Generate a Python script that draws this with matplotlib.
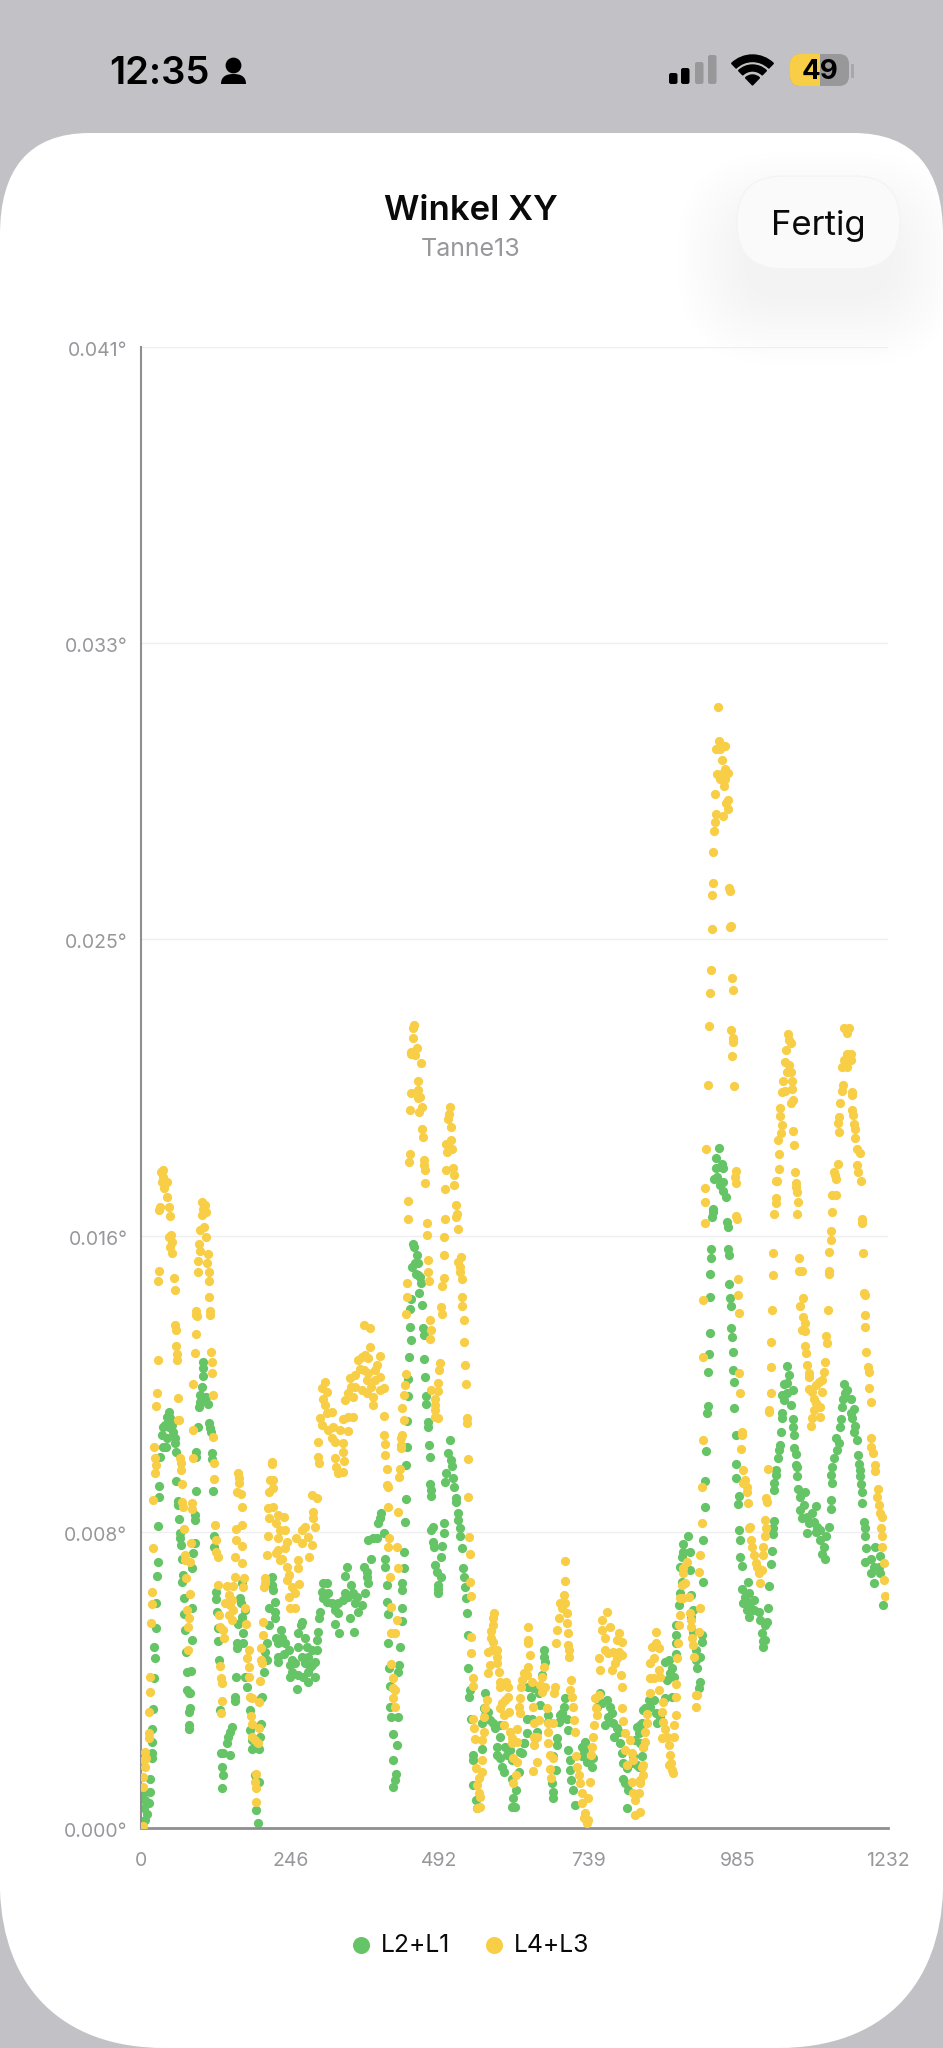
import matplotlib
matplotlib.use("Agg")
import matplotlib.pyplot as plt
import numpy as np
from matplotlib.patches import Circle, FancyBboxPatch, PathPatch, Rectangle, Wedge
from matplotlib.path import Path
from matplotlib.transforms import ScaledTranslation

plt.rcParams['font.family'] = ['Inter', 'DejaVu Sans']

GREEN = "#65C466"
YELLOW = "#F7CE46"
BACKDROP = "#C2C1C6"
TICK_GREY = "#98989C"

# (sample, angle in millidegrees) for each channel, grouped by hump
green_start = [
    (6, 0.22), (9, 0.40), (5, 0.54), (12, 0.68), (6, 0.77), (3, 0.96), (14, 1.00), (14, 1.35), (17, 1.93),
    (17, 2.07), (17, 2.39), (18, 2.73), (20, 3.29), (21, 4.14), (22, 4.72), (21, 5.00), (24, 5.53), (25, 6.22),
    (26, 6.98), (27, 7.37), (28, 8.36), (29, 9.17), (30, 9.47), (45, 11.52), (42, 11.39), (47, 11.34),
    (39, 11.16), (36, 11.11), (45, 11.11), (50, 11.16), (34, 10.88), (42, 10.79), (53, 10.97), (56, 10.79),
    (56, 10.65), (36, 10.54), (40, 10.54), (31, 10.28), (57, 10.42), (58, 9.62), (60, 9.06), (61, 8.94),
    (62, 8.55), (64, 8.18), (64, 8.02), (66, 7.83), (67, 7.46), (69, 7.00), (68, 6.82), (71, 6.38), (71, 5.92),
    (72, 5.48), (73, 4.88), (75, 4.33), (82, 4.35), (75, 3.82), (78, 3.73), (80, 3.73), (80, 3.31), (78, 3.22),
    (79, 2.85), (78, 2.73), (83, 5.20), (84, 6.08), (84, 7.19), (86, 7.60), (88, 7.88), (89, 8.53), (89, 8.66),
    (90, 9.33), (91, 10.40), (91, 10.26), (94, 11.11), (95, 11.65), (97, 11.80), (97, 11.99), (100, 12.20),
    (110, 11.74), (106, 11.92), (102, 12.51), (102, 12.73), (102, 12.91), (111, 11.20), (114, 11.06),
    (115, 10.97), (116, 10.39), (117, 10.21), (119, 9.33), (120, 8.08), (120, 7.79), (123, 6.54), (123, 6.33),
    (125, 5.99), (126, 5.53), (127, 5.18), (128, 4.65), (130, 3.27), (134, 1.70), (135, 1.47), (134, 1.10),
    (132, 2.08), (135, 2.07), (146, 2.02), (141, 2.34), (143, 2.53), (146, 2.67), (150, 2.80), (155, 3.63),
    (154, 3.52), (156, 4.19), (158, 5.11), (158, 4.97), (168, 5.11), (168, 5.39), (160, 5.66), (166, 5.76),
    (167, 5.85), (171, 6.03), (165, 6.22), (163, 6.36), (166, 6.77), (172, 4.19), (174, 3.91), (180, 3.27),
    (180, 2.71), (182, 2.44), (182, 2.18), (194, 2.18), (196, 2.53), (197, 2.87), (198, 3.59), (200, 3.63),
    (203, 4.33), (207, 4.65), (205, 4.88), (208, 5.11), (210, 5.62), (210, 6.08), (221, 5.99), (220, 5.80),
    (220, 6.26), (218, 6.59), (215, 6.96), (216, 6.73), (192, 0.15), (190, 0.50), (187, 1.47), (194, 1.28),
    (190, 1.33),
]
green_plateau = [
    (230, 5.48), (223, 5.25), (226, 5.11), (232, 5.25), (237, 5.11), (243, 4.93), (235, 4.83), (226, 4.74),
    (225, 4.60), (245, 4.51), (248, 4.65), (245, 4.19), (248, 4.33), (257, 3.86), (259, 4.23), (267, 4.19),
    (276, 4.05), (287, 4.19), (276, 4.33), (278, 4.47), (270, 4.56), (259, 5.02), (270, 5.25), (259, 5.39),
    (265, 5.71), (264, 5.62), (273, 5.02), (281, 4.93), (290, 4.93), (291, 5.43), (290, 5.20), (287, 4.60),
    (281, 4.51), (265, 4.74), (254, 4.56), (276, 4.74), (295, 5.99), (293, 5.80), (300, 6.77), (306, 6.77),
    (298, 6.54), (300, 6.36), (306, 6.26), (314, 6.22), (320, 6.03), (325, 5.94), (320, 5.66), (326, 5.39),
    (333, 6.31), (336, 6.50), (347, 6.73), (350, 6.50), (353, 6.22), (344, 5.80), (351, 5.42), (358, 5.99),
    (364, 6.17), (369, 6.50), (375, 6.77), (372, 6.96), (367, 7.23), (372, 7.10), (339, 7.23), (336, 6.98),
    (379, 7.46), (375, 7.97), (383, 8.02), (389, 8.02), (400, 8.16), (391, 8.43), (394, 8.57), (396, 8.71),
    (309, 6.50), (325, 6.22), (342, 6.40), (356, 6.40),
]
green_first_peak = [
    (402, 7.46), (402, 7.23), (405, 6.73), (405, 6.27), (408, 5.92), (408, 5.11), (409, 4.42), (411, 3.93),
    (411, 3.36), (413, 3.08), (423, 3.08), (415, 2.60), (422, 2.30), (416, 1.88), (420, 1.50), (418, 1.33),
    (416, 1.13), (424, 4.33), (426, 4.51), (427, 5.00), (430, 5.73), (430, 6.10), (431, 6.59), (431, 6.77),
    (434, 7.19), (434, 7.63), (435, 8.47), (437, 9.10), (437, 10.05), (439, 10.54), (439, 11.27), (440, 11.96),
    (441, 12.43), (442, 13.03), (445, 13.51), (443, 13.88), (448, 16.18), (451, 16.09), (455, 15.86),
    (456, 15.63), (447, 15.54), (453, 15.33), (460, 15.26), (462, 15.09), (459, 14.82), (463, 14.48),
    (446, 14.64), (444, 14.36), (452, 15.63), (457, 15.31), (465, 13.83), (466, 13.65), (467, 12.98),
    (468, 12.49), (470, 11.96), (470, 11.73), (473, 11.25), (473, 11.11), (475, 10.61), (476, 10.27),
    (477, 9.52), (478, 9.36), (479, 9.19), (481, 8.34), (479, 8.25), (482, 7.93), (484, 7.77), (485, 7.28),
    (488, 7.10), (490, 6.73), (490, 6.63), (490, 6.50), (495, 6.96), (495, 7.51), (497, 7.81), (499, 8.16),
    (500, 8.45), (503, 9.82), (501, 9.59), (515, 9.68), (517, 9.45), (519, 9.13), (519, 9.03), (522, 8.71),
    (523, 8.53), (526, 8.30), (526, 8.07), (529, 7.74), (531, 7.19), (532, 6.96), (534, 6.68), (536, 6.36),
    (538, 5.94), (540, 5.34), (540, 4.42), (541, 3.64), (542, 3.82), (544, 3.03), (547, 2.02), (548, 1.88),
    (548, 1.19), (552, 0.78), (554, 0.54), (510, 10.74), (507, 10.37), (511, 10.19), (513, 10.02),
]
green_valley = [
    (567, 3.73), (565, 3.31), (567, 3.13), (573, 3.22), (576, 2.99), (581, 2.90), (584, 2.76), (592, 2.85),
    (562, 2.20), (562, 2.90), (592, 2.53), (588, 2.25), (587, 2.02), (592, 1.93), (595, 1.70), (598, 1.56),
    (601, 2.25), (603, 2.02), (609, 2.16), (612, 1.88), (612, 0.59), (617, 0.59), (613, 0.82), (618, 1.05),
    (612, 1.37), (624, 1.56), (625, 2.11), (628, 2.07), (632, 2.34), (636, 2.62), (631, 2.34), (636, 3.03),
    (645, 3.03), (643, 3.64), (647, 3.87), (639, 3.91), (653, 2.67), (650, 2.48), (664, 4.93), (665, 4.74),
    (666, 4.60), (661, 4.23), (656, 3.73), (658, 3.40), (672, 3.13), (672, 2.94), (686, 2.48), (686, 2.30),
    (680, 1.98), (684, 1.61), (678, 1.24), (679, 1.01), (680, 0.82), (691, 3.13), (689, 2.94), (694, 3.17),
    (697, 3.36), (700, 3.59), (702, 3.03), (705, 2.71), (705, 2.16), (708, 1.88), (708, 1.61), (710, 1.33),
    (713, 1.05), (716, 0.64), (727, 2.25), (733, 2.39), (730, 2.16), (727, 1.98), (735, 1.83), (746, 1.93),
    (744, 1.70), (757, 3.75), (752, 3.36), (760, 3.45), (768, 3.54), (774, 3.36), (777, 3.17), (771, 3.08),
    (779, 2.90), (766, 2.85), (785, 2.76), (788, 2.67), (781, 2.53), (790, 2.34), (793, 2.07), (796, 1.79),
    (801, 1.65), (796, 1.37), (799, 1.24), (804, 1.05), (801, 0.54), (818, 2.80), (826, 2.90), (821, 2.62),
    (815, 2.44), (823, 2.34), (829, 2.25), (812, 1.98), (810, 1.79), (821, 1.70), (832, 3.31), (824, 2.85),
    (827, 1.98), (818, 1.74),
]
green_rise = [
    (829, 3.27), (838, 3.54), (840, 3.36), (846, 3.54), (849, 3.17), (851, 2.90), (857, 3.08), (865, 3.59),
    (876, 3.64), (868, 4.10), (873, 4.28), (876, 4.42), (865, 4.60), (871, 4.65), (879, 4.19), (882, 4.83),
    (883, 5.11), (882, 5.34), (883, 5.62), (887, 6.17), (890, 6.50), (893, 6.82), (890, 7.23), (893, 7.51),
    (895, 7.65), (894, 7.85), (903, 8.09), (906, 7.65), (905, 7.14), (908, 6.45), (911, 6.03), (908, 5.85),
    (911, 5.43), (915, 4.93), (915, 4.65), (917, 4.42), (923, 4.74), (926, 5.16), (926, 5.34), (923, 4.05),
    (920, 3.87),
]
green_main_peak = [
    (927, 6.82), (928, 7.97), (930, 8.90), (931, 9.61), (932, 10.45), (934, 11.48), (935, 11.68), (935, 12.63),
    (937, 13.12), (938, 13.69), (938, 14.71), (939, 15.35), (941, 15.77), (941, 16.02), (942, 16.92),
    (944, 17.06), (944, 17.15), (945, 17.98), (948, 18.26), (950, 18.03), (949, 18.54), (953, 18.83),
    (959, 18.38), (961, 18.26), (961, 17.89), (956, 17.80), (961, 17.64), (965, 17.47), (967, 16.78),
    (968, 16.64), (969, 16.02), (970, 15.86), (971, 15.07), (972, 14.66), (974, 14.45), (974, 13.85),
    (975, 13.60), (976, 13.17), (977, 12.68), (979, 12.36), (979, 11.62), (981, 10.88), (982, 10.07),
    (982, 9.68), (986, 9.19), (985, 8.97), (987, 8.25), (988, 7.97), (989, 7.51), (992, 7.25), (992, 6.63),
    (1002, 6.82), (994, 6.22), (1003, 6.50), (997, 6.40), (1005, 6.22), (1011, 6.31), (1000, 6.03), (1003, 5.83),
    (1011, 6.03), (1019, 5.99), (1021, 5.76), (1033, 5.71), (1030, 5.62), (1024, 5.41), (1029, 5.20),
    (1026, 5.18), (1027, 5.02),
]
green_end = [
    (1035, 6.10), (1037, 6.70), (1040, 7.30), (1041, 7.68), (1043, 8.14), (1043, 8.31), (1044, 8.51), (1045, 9.36),
    (1045, 9.56), (1048, 9.77), (1047, 9.91), (1051, 10.23), (1052, 10.46), (1054, 10.60), (1056, 10.95),
    (1058, 11.34), (1058, 11.48), (1072, 11.71), (1061, 11.85), (1058, 11.99), (1066, 12.03), (1066, 12.31),
    (1061, 12.29), (1076, 12.13), (1069, 12.54), (1066, 12.79), (1076, 11.31), (1076, 11.09), (1078, 10.88),
    (1078, 10.51), (1081, 10.34), (1081, 10.05), (1083, 10.00), (1083, 9.75), (1084, 9.38), (1095, 9.29),
    (1088, 9.17), (1094, 8.94), (1088, 8.80), (1091, 8.57), (1113, 8.91), (1099, 8.62), (1107, 8.71),
    (1102, 8.43), (1110, 8.48), (1116, 8.34), (1099, 8.16), (1113, 8.20), (1121, 8.25), (1135, 8.34),
    (1121, 7.97), (1131, 8.07), (1127, 7.79), (1123, 7.58), (1129, 7.46), (1138, 8.82), (1139, 9.08),
    (1140, 9.54), (1139, 9.77), (1140, 10.00), (1143, 10.23), (1149, 10.46), (1151, 10.65), (1147, 10.79),
    (1153, 11.11), (1155, 11.31), (1157, 11.66), (1158, 11.89), (1160, 12.29), (1162, 12.03), (1165, 12.13),
    (1171, 11.89), (1176, 11.59), (1171, 11.48), (1173, 11.34), (1178, 11.13), (1176, 10.97), (1181, 10.74),
    (1183, 10.33), (1184, 10.08), (1187, 9.91), (1186, 9.75), (1188, 9.52), (1189, 9.31), (1190, 9.01),
    (1193, 8.48), (1194, 8.30), (1195, 8.07), (1197, 7.74), (1212, 7.77), (1195, 7.37), (1204, 7.46),
    (1220, 7.53), (1209, 7.23), (1204, 7.05), (1220, 7.05), (1209, 6.77), (1217, 7.23), (1225, 6.17),
]

yellow_start = [
    (2, 0.05), (3, 1.14), (3, 1.42), (6, 1.70), (7, 1.93), (6, 2.11), (5, 1.88), (12, 2.48), (12, 2.62), (13, 3.20),
    (14, 3.76), (15, 4.17), (16, 5.68), (18, 6.20), (17, 6.52), (19, 7.76), (20, 9.08), (23, 9.82), (24, 10.05),
    (23, 10.25), (21, 10.54), (25, 11.68), (26, 12.05), (27, 12.96), (28, 15.14), (29, 15.42), (54, 15.23),
    (56, 14.89), (45, 16.35), (49, 16.41), (51, 16.23), (47, 16.09), (51, 15.92), (42, 17.47), (31, 17.20),
    (29, 17.11), (45, 17.20), (48, 16.95), (36, 18.21), (32, 18.17), (35, 18.03), (34, 17.89), (43, 17.89),
    (38, 17.71), (56, 13.92), (57, 13.79), (58, 13.35), (59, 13.12), (59, 12.96), (61, 11.91), (63, 11.29),
    (61, 11.29), (64, 10.23), (65, 10.10), (66, 9.91), (68, 9.52), (68, 9.03), (69, 8.90), (70, 8.28), (72, 7.56),
    (72, 7.42), (73, 6.91), (80, 7.37), (80, 6.48), (75, 6.03), (78, 5.80), (77, 5.57), (77, 4.94), (86, 12.29),
    (86, 11.02), (86, 10.23), (89, 13.14), (90, 13.68), (91, 14.20), (83, 8.99), (83, 8.83), (82, 7.88),
    (94, 15.40), (94, 15.69), (95, 16.18), (97, 15.98), (91, 14.32), (92, 14.17), (97, 16.55), (104, 16.64),
    (107, 16.35), (100, 16.97), (106, 17.06), (102, 17.15), (101, 17.32), (105, 17.24), (110, 15.89),
    (108, 15.65), (112, 15.40), (111, 15.14), (112, 14.69), (113, 14.32), (114, 14.20), (115, 13.19),
    (116, 12.89), (117, 12.61), (119, 11.99), (119, 10.83), (120, 10.10), (120, 9.66), (122, 8.39), (123, 7.97),
    (124, 7.65), (126, 7.51), (127, 6.73), (128, 5.90), (130, 5.57), (135, 5.48), (137, 5.25), (130, 4.49),
    (131, 4.14), (134, 4.02), (134, 3.52), (132, 3.19),
]
yellow_shoulder = [
    (141, 6.70), (152, 6.70), (144, 6.45), (138, 6.22), (149, 6.31), (146, 6.17), (152, 6.03), (145, 5.90),
    (149, 5.76), (154, 6.96), (170, 6.91), (168, 6.68), (171, 6.08), (173, 5.66), (156, 8.29), (166, 8.39),
    (156, 7.97), (167, 7.82), (155, 7.49), (167, 7.33), (166, 8.90), (158, 9.31), (165, 9.26), (160, 9.82),
    (161, 9.68), (161, 9.54), (177, 4.93), (174, 4.70), (177, 4.47), (178, 4.19), (180, 3.64), (182, 3.59),
    (181, 3.10), (182, 2.87), (183, 2.53), (188, 2.44), (193, 2.34), (195, 2.78), (194, 3.50), (196, 4.08),
    (198, 4.65), (198, 4.97), (199, 4.56), (201, 5.34), (201, 5.71), (203, 6.68), (204, 6.91), (205, 6.77),
    (189, 1.49), (188, 1.28), (189, 1.10), (190, 0.73), (207, 7.56), (209, 8.09), (210, 8.57), (209, 8.87),
    (218, 8.90), (211, 9.29), (212, 9.63), (218, 9.63), (218, 9.40), (215, 10.08), (215, 10.14), (226, 8.66),
    (235, 8.62), (223, 8.43), (229, 8.25), (237, 8.25), (226, 8.02), (240, 7.93), (237, 7.74), (226, 7.70),
    (223, 7.60), (232, 7.46), (229, 7.42), (240, 7.23), (258, 7.19), (244, 7.00), (240, 6.87), (248, 6.68),
    (260, 6.75), (245, 6.08), (253, 6.08), (243, 6.40), (253, 6.50), (255, 8.02), (265, 7.88), (259, 7.42),
    (270, 8.34), (265, 8.25), (276, 8.06), (281, 7.83), (277, 7.51), (287, 8.34), (284, 8.57), (284, 8.76),
    (290, 9.13), (282, 9.22),
]
yellow_plateau = [
    (292, 10.68), (291, 10.28), (293, 10.10), (295, 11.34), (298, 11.16), (298, 12.17), (306, 12.08),
    (303, 12.36), (300, 11.89), (304, 11.71), (314, 11.52), (306, 11.48), (309, 11.02), (317, 11.11),
    (314, 10.79), (320, 10.69), (333, 10.65), (333, 10.42), (320, 10.23), (335, 10.17), (322, 10.00),
    (333, 9.85), (325, 9.82), (328, 11.02), (342, 11.00), (333, 11.32), (350, 11.39), (342, 11.39),
    (336, 11.85), (342, 12.03), (347, 12.22), (350, 11.94), (344, 12.45), (353, 12.54), (358, 12.96),
    (364, 13.05), (369, 13.09), (375, 13.00), (367, 12.68), (372, 12.40), (364, 12.13), (377, 13.32),
    (377, 13.83), (367, 13.92), (394, 13.08), (389, 12.82), (386, 12.68), (394, 12.49), (400, 12.17),
    (394, 12.13), (380, 12.22), (372, 12.03), (383, 11.94), (382, 11.71), (400, 11.41), (401, 10.88),
    (403, 10.62), (402, 10.33), (405, 9.94), (405, 9.50), (407, 9.45), (375, 12.59), (386, 12.40),
    (353, 12.22), (361, 12.72), (407, 8.88), (409, 8.02), (408, 7.77), (411, 6.96), (412, 6.13), (412, 4.54),
    (415, 4.14), (416, 3.87), (419, 3.82), (416, 3.59), (418, 3.34),
]
yellow_first_peak = [
    (424, 8.76), (422, 7.77), (423, 7.19), (419, 5.39), (413, 5.39), (422, 5.76), (426, 9.73), (427, 9.94),
    (429, 10.60), (428, 10.79), (431, 10.88), (433, 11.29), (431, 11.62), (434, 11.99), (435, 12.26),
    (437, 12.56), (428, 10.51), (437, 14.22), (438, 14.71), (439, 15.10), (440, 16.86), (441, 17.35),
    (442, 18.43), (443, 18.67), (444, 19.87), (445, 20.34), (446, 21.44), (445, 21.49), (449, 21.86),
    (449, 22.14), (451, 22.23), (455, 21.58), (452, 21.40), (461, 21.19), (457, 20.68), (456, 20.43),
    (460, 20.24), (456, 20.20), (463, 19.97), (458, 19.83), (464, 19.34), (465, 19.14), (466, 18.49),
    (467, 18.35), (468, 18.21), (469, 17.87), (471, 16.76), (472, 16.41), (474, 15.72), (473, 15.38),
    (475, 15.15), (477, 14.06), (496, 14.22), (495, 14.43), (497, 15.01), (499, 15.23), (499, 15.86),
    (500, 16.37), (501, 16.85), (501, 17.69), (503, 18.21), (504, 18.72), (503, 18.93), (512, 19.04),
    (513, 18.81), (511, 19.41), (506, 19.64), (508, 19.78), (510, 19.97), (515, 18.28), (517, 18.09),
    (517, 17.80), (519, 17.24), (521, 17.01), (520, 16.92), (522, 16.57), (527, 15.80), (523, 15.68),
    (526, 15.54), (526, 15.40), (529, 15.19), (530, 14.69), (530, 14.46), (532, 14.06), (478, 13.79),
    (477, 13.53), (493, 12.86), (492, 12.68), (489, 12.31), (479, 12.13), (490, 12.10), (485, 11.87),
    (485, 11.71), (485, 11.57), (485, 11.39), (490, 11.36), (533, 13.45), (534, 12.82), (536, 12.28),
    (537, 11.34), (538, 11.20), (539, 10.22), (540, 9.15), (541, 8.05), (542, 7.58), (543, 6.80), (544, 6.43),
    (544, 5.30), (545, 4.84), (548, 4.14), (547, 3.93),
]
yellow_valley = [
    (583, 5.96), (581, 5.80), (580, 5.62), (577, 5.44), (577, 5.25), (581, 5.16), (579, 4.93), (573, 4.88),
    (587, 4.93), (587, 4.74), (588, 4.56), (576, 4.51), (572, 4.28), (590, 4.33), (592, 4.05), (592, 3.91),
    (602, 4.05), (606, 3.91), (605, 3.64), (601, 3.54), (595, 3.45), (592, 3.31), (607, 3.22), (598, 3.13),
    (599, 2.85), (570, 3.54), (567, 3.31), (566, 3.08), (565, 2.67), (562, 2.44), (562, 1.88), (552, 1.65),
    (562, 1.56), (557, 1.38), (555, 1.19), (558, 0.96), (559, 0.87), (559, 0.59), (555, 0.54), (548, 3.03),
    (550, 2.76), (551, 2.46), (609, 2.67), (621, 2.73), (612, 2.48), (620, 2.39), (612, 2.34), (613, 1.93),
    (620, 1.84), (618, 1.47), (614, 1.24), (625, 3.59), (624, 3.36), (625, 3.17), (627, 3.91), (628, 4.10),
    (632, 4.28), (639, 4.47), (636, 4.23), (642, 4.79), (639, 5.11), (638, 5.20), (638, 5.57), (645, 4.05),
    (646, 3.36), (648, 2.90), (656, 2.99), (648, 2.53), (653, 2.53), (648, 2.30), (653, 1.84), (647, 1.59),
    (664, 4.45), (661, 4.19), (658, 3.96), (661, 3.77), (667, 3.91), (669, 3.31), (671, 2.90), (672, 2.67),
    (672, 2.34), (680, 2.90), (683, 3.91), (682, 3.75), (675, 2.02), (680, 1.93), (675, 1.62), (676, 1.38),
    (684, 5.13), (686, 5.48), (689, 5.80), (694, 6.08), (691, 6.22), (697, 6.45), (700, 6.22), (702, 5.94),
    (702, 5.67), (704, 5.41), (704, 5.07), (706, 4.93), (706, 4.74), (700, 6.84), (700, 7.40), (709, 4.10),
    (708, 3.82), (711, 3.64), (713, 3.36), (715, 2.99), (716, 2.67), (718, 2.00), (719, 1.70), (722, 1.47),
    (724, 1.24), (741, 1.26), (727, 0.96), (738, 0.82), (727, 0.68), (733, 0.41), (735, 0.13), (738, 0.22),
    (730, 0.27), (746, 2.53), (744, 2.25), (743, 2.02), (748, 2.85), (752, 3.13), (750, 3.31), (749, 3.59),
    (755, 3.68), (757, 4.37), (756, 4.70), (766, 4.93), (771, 4.84), (779, 4.88), (788, 4.88), (793, 4.79),
    (785, 4.70), (782, 4.56), (777, 4.37), (766, 5.25), (760, 5.48), (768, 5.99), (760, 5.76), (774, 5.57),
    (788, 5.39), (785, 5.20), (793, 5.16), (792, 4.23), (794, 3.89), (794, 3.31), (795, 2.96), (799, 2.62),
    (807, 2.44), (799, 2.16), (810, 2.07), (801, 1.75), (812, 1.88), (810, 1.28), (826, 1.70), (823, 1.33),
    (812, 0.96), (815, 0.78), (823, 0.45), (815, 0.36),
]
yellow_rise = [
    (829, 1.74), (828, 1.47), (824, 1.24), (821, 0.96), (829, 2.25), (832, 2.39), (832, 2.67), (835, 2.90),
    (834, 3.16), (839, 3.73), (840, 4.14), (847, 4.16), (854, 4.37), (857, 4.19), (854, 3.82), (840, 4.56),
    (846, 4.72), (843, 5.02), (854, 4.97), (850, 5.11), (849, 5.43), (861, 3.50), (860, 3.22), (862, 2.94),
    (864, 2.73), (860, 2.48), (868, 2.53), (879, 2.53), (880, 2.85), (882, 3.13), (871, 2.30), (873, 2.02),
    (875, 1.79), (871, 1.74), (876, 1.60), (878, 1.51), (883, 3.64), (883, 4.00), (884, 4.72), (886, 5.11),
    (887, 5.62), (890, 5.90), (890, 6.36), (904, 6.40), (895, 6.36), (893, 6.73), (898, 6.77), (895, 7.05),
    (901, 7.37), (895, 7.19), (905, 5.94), (908, 5.76), (908, 5.57), (909, 5.25), (911, 5.07), (912, 4.74),
    (920, 5.43), (923, 6.08), (921, 7.10), (923, 7.56), (925, 8.43), (926, 9.45), (927, 10.74), (927, 13.05),
    (915, 3.68), (915, 3.36), (917, 3.68),
]
yellow_main_peak = [
    (928, 14.63), (930, 16.76), (930, 17.34), (931, 17.73), (933, 18.81), (935, 20.57), (937, 22.20),
    (939, 23.12), (940, 23.76), (942, 24.90), (942, 25.82), (943, 26.17), (944, 27.03), (945, 27.60),
    (947, 27.85), (947, 28.62), (948, 28.08), (949, 29.86), (950, 29.17), (952, 31.04), (953, 30.10),
    (955, 29.86), (955, 29.03), (958, 29.56), (958, 29.19), (961, 28.01), (962, 28.85), (963, 29.96),
    (964, 29.33), (964, 29.05), (965, 28.38), (968, 29.21), (969, 28.45), (969, 28.20), (970, 26.03),
    (972, 25.94), (972, 24.93), (974, 24.97), (975, 23.52), (976, 23.19), (974, 22.09), (977, 21.86),
    (977, 21.77), (975, 21.37), (978, 20.54), (982, 18.19), (980, 18.03), (981, 17.86), (982, 16.94),
    (983, 16.87), (985, 15.19), (985, 14.75), (986, 14.26), (987, 12.59), (989, 12.05), (991, 10.97),
    (992, 10.88), (990, 10.48), (994, 9.91), (997, 9.63), (994, 9.54), (1000, 9.45), (1000, 9.31), (1001, 9.01),
    (1005, 8.34), (1003, 8.30), (1007, 7.97), (1008, 7.79), (1011, 7.56), (1014, 7.33), (1017, 7.23),
    (1019, 7.05), (1022, 6.77), (1025, 7.14), (1027, 7.56), (1027, 7.79), (1030, 8.07), (1032, 8.30),
    (1029, 8.53), (1033, 9.03), (1031, 9.13), (1035, 9.93), (1036, 11.53), (1037, 11.57), (1039, 12.05),
    (1040, 12.75), (1040, 13.46),
]
yellow_end = [
    (1043, 15.92), (1042, 15.31), (1041, 14.34), (1044, 17.01), (1047, 17.29), (1048, 17.45), (1047, 17.91),
    (1050, 17.91), (1052, 18.23), (1052, 18.67), (1051, 19.06), (1056, 19.23), (1058, 19.46), (1055, 19.71),
    (1054, 19.92), (1058, 20.38), (1062, 20.41), (1059, 20.68), (1066, 20.94), (1072, 20.94), (1062, 21.21),
    (1069, 21.12), (1064, 21.55), (1069, 21.81), (1072, 21.74), (1067, 21.98), (1074, 20.68), (1075, 20.45),
    (1076, 20.15), (1072, 20.08), (1076, 19.29), (1077, 18.90), (1079, 18.15), (1080, 17.86), (1081, 17.75),
    (1083, 17.60), (1084, 17.32), (1083, 17.00), (1086, 15.79), (1086, 15.42), (1090, 15.42), (1092, 14.66),
    (1088, 14.46), (1092, 14.15), (1095, 13.97), (1091, 13.80), (1096, 13.77), (1096, 13.34), (1098, 13.14),
    (1099, 12.82), (1102, 12.59), (1102, 12.49), (1102, 12.14), (1107, 12.08), (1110, 11.89), (1113, 12.26),
    (1118, 12.36), (1124, 12.08), (1124, 12.40), (1129, 12.91), (1127, 12.63), (1113, 11.76), (1110, 11.57),
    (1121, 11.66), (1107, 11.34), (1105, 11.13), (1121, 11.37), (1131, 13.62), (1132, 13.44), (1134, 14.35),
    (1135, 15.35), (1136, 15.43), (1136, 15.95), (1138, 16.29), (1139, 16.53), (1140, 17.05), (1141, 17.52),
    (1146, 17.52), (1147, 17.98), (1143, 18.17), (1145, 18.07), (1150, 18.37), (1152, 19.27), (1150, 19.52),
    (1152, 19.67), (1154, 20.06), (1157, 20.41), (1158, 20.57), (1157, 21.07), (1165, 21.07), (1160, 21.26),
    (1165, 21.44), (1171, 21.44), (1171, 21.26), (1160, 22.14), (1168, 22.15), (1165, 22.00), (1173, 20.38),
    (1173, 20.29), (1174, 19.87), (1175, 19.74), (1176, 19.49), (1179, 19.34), (1179, 19.09), (1182, 18.81),
    (1186, 18.69), (1181, 18.35), (1183, 18.15), (1188, 17.91), (1190, 16.87), (1190, 16.74), (1191, 15.91),
    (1193, 14.80), (1194, 14.75), (1195, 14.20), (1195, 13.88), (1197, 13.17), (1199, 12.77), (1201, 12.63),
    (1202, 12.19), (1204, 11.78), (1205, 10.79), (1205, 10.56), (1208, 10.37), (1212, 10.05), (1212, 9.87),
    (1216, 9.38), (1215, 9.15), (1218, 8.94), (1220, 8.71), (1223, 8.62), (1221, 8.30), (1223, 8.07),
    (1223, 7.79), (1226, 7.33), (1226, 6.87), (1228, 6.41),
]

x_ticks = [0, 246, 492, 739, 985, 1232]
y_ticks = [0.0, 0.0082, 0.0164, 0.0246, 0.0328, 0.041]
y_tick_labels = ["0.000°", "0.008°", "0.016°", "0.025°", "0.033°", "0.041°"]


def to_series(*groups):
    pts = np.array(sum(groups, []), dtype=float)
    return pts[:, 0], pts[:, 1] / 1000.0


def rounded_bar(ax, x, y, w, h, r, color, **kwargs):
    patch = FancyBboxPatch((x, y), w, h, boxstyle=f"round,pad=0,rounding_size={r}",
                           facecolor=color, edgecolor="none", **kwargs)
    ax.add_patch(patch)
    return patch


fig = plt.figure(figsize=(9.43, 20.48), dpi=100, facecolor=BACKDROP)

# sheet and status bar, laid out in pixels
bg = fig.add_axes([0, 0, 1, 1], zorder=0)
bg.set_xlim(0, 943)
bg.set_ylim(2048, 0)
bg.axis("off")

sheet_verts = [
    (0, 235), (0, 170), (28, 133), (90, 133),
    (853, 133), (915, 133), (943, 170), (943, 235),
    (943, 1890), (940, 1985), (883, 2048), (778, 2048),
    (165, 2048), (60, 2048), (3, 1985), (0, 1890),
    (0, 235),
]
sheet_codes = [Path.MOVETO, Path.CURVE4, Path.CURVE4, Path.CURVE4,
               Path.LINETO, Path.CURVE4, Path.CURVE4, Path.CURVE4,
               Path.LINETO, Path.CURVE4, Path.CURVE4, Path.CURVE4,
               Path.LINETO, Path.CURVE4, Path.CURVE4, Path.CURVE4,
               Path.CLOSEPOLY]
sheet = PathPatch(Path(sheet_verts, sheet_codes), facecolor="white", edgecolor="none")
bg.add_patch(sheet)

# soft shadow under the button, stacked translucent boxes pushed downward
for grow in np.arange(-6, 66, 6):
    shadow = rounded_bar(bg, 737 - grow, 212 - grow, 163 + 2 * grow, 93 + 2 * grow, 42 + max(grow, 0),
                         "black", alpha=0.0028)
    shadow.set_clip_path(sheet)

button = FancyBboxPatch((737, 176), 163, 93, boxstyle="round,pad=0,rounding_size=46",
                        facecolor="#FAFAFA", edgecolor="#F4F4F4", linewidth=1)
bg.add_patch(button)
bg.text(818, 226, "Fertig", fontsize=25, color="#0A0A0A", ha="center", va="center")

bg.text(471, 211, "Winkel XY", fontsize=25, fontweight="semibold", color="#0A0A0A", ha="center", va="center")
bg.text(471, 249, "Tanne13", fontsize=18, color="#98989C", ha="center", va="center")

bg.text(159.5, 74, "12:35", fontsize=27.5, fontweight="semibold", color="black", ha="center", va="center")

# person glyph next to the clock
bg.add_patch(Circle((233.5, 65.5), 7.2, color="black"))
body = Path([(221, 84), (221, 76), (227, 74), (233.5, 74), (240, 74), (246, 76), (246, 84), (221, 84)],
            [Path.MOVETO, Path.CURVE4, Path.CURVE4, Path.CURVE4, Path.CURVE4, Path.CURVE4, Path.CURVE4,
             Path.CLOSEPOLY])
bg.add_patch(PathPatch(body, facecolor="black", edgecolor="none"))

# signal bars
bar_left = [669, 681, 695, 708]
bar_top = [73, 68, 62, 55]
bar_color = ["black", "black", "#98989B", "#98989B"]
for left, top, col in zip(bar_left, bar_top, bar_color):
    rounded_bar(bg, left, top, 8.5, 84 - top, 2.2, col)

# wifi arcs; y runs downward here so 270 degrees points up
bg.add_patch(Wedge((752.5, 85), 30, 226, 314, width=6.5, color="black"))
bg.add_patch(Wedge((752.5, 85), 20, 226, 314, width=6, color="black"))
bg.add_patch(Wedge((752.5, 85), 10, 226, 314, color="black"))

# battery
rounded_bar(bg, 790, 54, 59, 32, 10, "#98989B")
charge = rounded_bar(bg, 790, 54, 59, 32, 10, YELLOW)
charge.set_clip_path(Rectangle((790, 54), 30, 32, transform=bg.transData))
bg.add_patch(Rectangle((851, 64), 3, 14, facecolor="#A8A8AB", edgecolor="none"))
bg.text(820, 72, "49", fontsize=20, fontweight="bold", color="black", ha="center", va="center")

# the chart itself
ax = fig.add_axes([141.3 / 943, 1 - 1828 / 2048, 746.3 / 943, 1481 / 2048], zorder=1)
ax.patch.set_alpha(0)

green_x, green_y = to_series(green_start, green_plateau, green_first_peak, green_valley, green_rise,
                             green_main_peak, green_end)
yellow_x, yellow_y = to_series(yellow_start, yellow_shoulder, yellow_plateau, yellow_first_peak,
                               yellow_valley, yellow_rise, yellow_main_peak, yellow_end)

dot_size = 44
ax.scatter(green_x, green_y, s=dot_size, color=GREEN, linewidths=0, label="L2+L1", zorder=2)
ax.scatter(yellow_x, yellow_y, s=dot_size, color=YELLOW, linewidths=0, label="L4+L3", zorder=3)

ax.set_xlim(0, 1232)
ax.set_ylim(0, 0.041)
ax.set_xticks(x_ticks)
ax.set_yticks(y_ticks)
ax.set_yticklabels(y_tick_labels)
ax.tick_params(axis="both", length=0, labelsize=14, labelcolor=TICK_GREY)
ax.tick_params(axis="x", pad=17)
ax.tick_params(axis="y", pad=10)
ax.grid(axis="y", color="#EFEFF1", linewidth=1.0)
ax.set_axisbelow(True)

# nudge the y labels down a touch so they sit on their gridlines
nudge = ScaledTranslation(0, -1.5 / 72, fig.dpi_scale_trans)
for label in ax.get_yticklabels():
    label.set_transform(label.get_transform() + nudge)

for side in ["top", "right"]:
    ax.spines[side].set_visible(False)
ax.spines["left"].set_color("#8F8F93")
ax.spines["left"].set_linewidth(1.5)
ax.spines["bottom"].set_color("#8F8F93")
ax.spines["bottom"].set_linewidth(2.0)

handles, labels = ax.get_legend_handles_labels()
fig.legend(handles, labels, loc="center", bbox_to_anchor=(470.6 / 943, 1 - 1945 / 2048), ncol=2,
           frameon=False, fontsize=17.8, markerscale=1.85, scatterpoints=1, handlelength=0.7,
           handletextpad=0.44, columnspacing=1.43, borderpad=0, borderaxespad=0, labelcolor="#0A0A0A")

fig.savefig("out.png", dpi=100, facecolor=BACKDROP)
